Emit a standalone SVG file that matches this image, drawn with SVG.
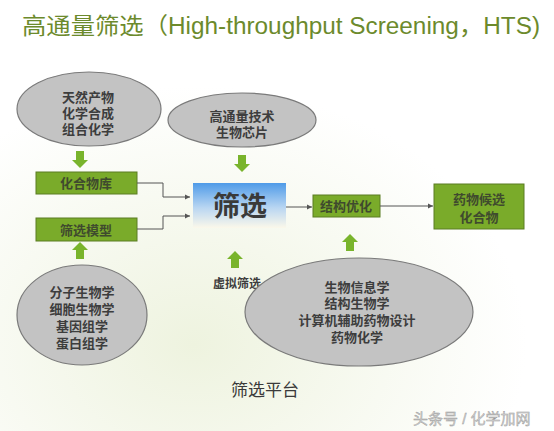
<svg xmlns="http://www.w3.org/2000/svg" width="554" height="431" viewBox="0 0 554 431">
<defs>
<linearGradient id="blue" x1="0" y1="0" x2="0" y2="1">
<stop offset="0" stop-color="#4f9be8"/>
<stop offset="0.55" stop-color="#b9d6f2"/>
<stop offset="1" stop-color="#fbf8ea"/>
</linearGradient>
<radialGradient id="bg" cx="0.35" cy="0.8" r="0.6">
<stop offset="0" stop-color="#eef3df"/>
<stop offset="1" stop-color="#ffffff"/>
</radialGradient>
<marker id="ah" markerWidth="6" markerHeight="6" refX="5" refY="3" orient="auto" markerUnits="userSpaceOnUse">
<path d="M0,0.5 L5,3 L0,5.5 Z" fill="#555"/>
</marker>
<path id="dn" d="M-4,-9 H4 V0 H8 L0,8 L-8,0 H-4 Z"/>
</defs>
<style>
.t{font-family:"Liberation Sans","Noto Sans CJK SC",sans-serif;}
.ell{fill:#c3c3c3;stroke:#7a7a7a;stroke-width:1.2;}
.box{fill:#7aab2a;stroke:#5b7d22;stroke-width:1;}
.et{font-size:13px;font-weight:bold;fill:#3d3d3d;text-anchor:middle;}
.bt{font-size:13px;font-weight:bold;fill:#3f4a2e;text-anchor:middle;}
.arr{fill:#79b42c;}
.con{fill:none;stroke:#555;stroke-width:1;marker-end:url(#ah);}
</style>
<rect width="554" height="431" fill="url(#bg)"/>
<text class="t" x="22" y="34" font-size="23" fill="#6c8a2c" textLength="518" lengthAdjust="spacingAndGlyphs">高通量筛选（High-throughput Screening，HTS)</text>

<g id="src1">
<ellipse class="ell" cx="89" cy="109" rx="72" ry="37"/>
<text class="t et"><tspan x="88" y="102">天然产物</tspan><tspan x="88" y="118">化学合成</tspan><tspan x="88" y="134">组合化学</tspan></text>
</g>
<g id="lib">
<rect class="box" x="36" y="172" width="101" height="22"/>
<text class="t bt" x="86" y="188">化合物库</text>
</g>
<g id="model">
<rect class="box" x="36" y="218" width="101" height="23"/>
<text class="t bt" x="86" y="235">筛选模型</text>
</g>
<g id="src2">
<ellipse class="ell" cx="82" cy="315" rx="65" ry="50"/>
<text class="t et"><tspan x="82" y="297">分子生物学</tspan><tspan x="82" y="314">细胞生物学</tspan><tspan x="82" y="331">基因组学</tspan><tspan x="82" y="348">蛋白组学</tspan></text>
</g>
<g id="tech">
<ellipse class="ell" cx="242" cy="120" rx="74" ry="27"/>
<text class="t et"><tspan x="242" y="121">高通量技术</tspan><tspan x="242" y="137">生物芯片</tspan></text>
</g>
<g id="screen">
<rect x="193" y="183" width="93" height="45" fill="url(#blue)"/>
<text class="t" x="240" y="216" font-size="27" font-weight="bold" fill="#3a3a3a" text-anchor="middle">筛选</text>
</g>
<g id="virtual">
<text class="t" x="237" y="288" font-size="12" font-weight="bold" fill="#3d3d3d" text-anchor="middle">虚拟筛选</text>
</g>
<g id="opt">
<rect class="box" x="313" y="195" width="67" height="22"/>
<text class="t bt" x="346" y="211">结构优化</text>
</g>
<g id="cand">
<rect class="box" x="434" y="184" width="90" height="45"/>
<text class="t bt"><tspan x="479" y="204">药物候选</tspan><tspan x="479" y="222">化合物</tspan></text>
</g>
<g id="src3">
<ellipse class="ell" cx="359" cy="312" rx="114" ry="54"/>
<text class="t et"><tspan x="357" y="292">生物信息学</tspan><tspan x="357" y="308">结构生物学</tspan><tspan x="357" y="325">计算机辅助药物设计</tspan><tspan x="357" y="342">药物化学</tspan></text>
</g>
<g id="platform">
<text class="t" x="265" y="396" font-size="17" fill="#3a3a3a" text-anchor="middle">筛选平台</text>
</g>
<g id="watermark">
<text class="t" x="413" y="424" font-size="15" fill="#d0d0d0" stroke="#999" stroke-width="0.4">头条号 / 化学加网</text>
</g>

<g id="connectors">
<use href="#dn" class="arr" transform="translate(80,160)"/>
<use href="#dn" class="arr" transform="translate(242,164)"/>
<use href="#dn" class="arr" transform="translate(80,250) rotate(180)"/>
<use href="#dn" class="arr" transform="translate(235,259) rotate(180)"/>
<use href="#dn" class="arr" transform="translate(350,242) rotate(180)"/>
<path class="con" d="M137,183 H163 V197 H190"/>
<path class="con" d="M137,229 H163 V216 H190"/>
<path class="con" d="M286,207 H312"/>
<path class="con" d="M380,206 H433"/>
</g>
</svg>
